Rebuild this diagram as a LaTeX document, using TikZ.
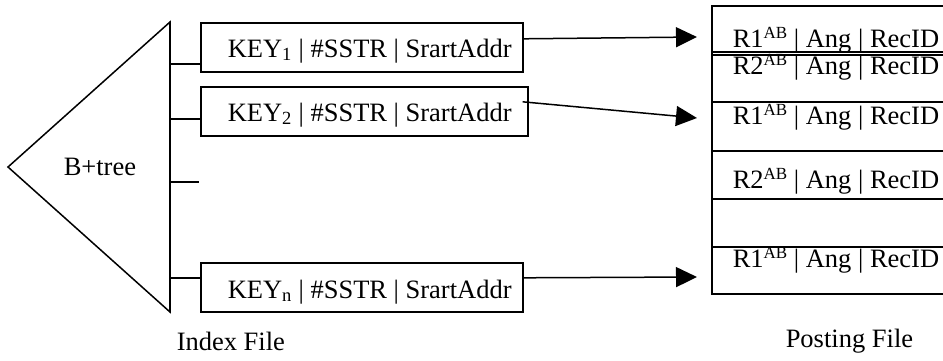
\documentclass[tikz,border=0pt]{standalone}
\usepackage{fontspec}
\setmainfont{Liberation Serif}
\usetikzlibrary{arrows.meta}
\newcommand{\supAB}{\raisebox{0.32em}{\fontsize{17}{17}\selectfont AB}}
\begin{document}
\begin{tikzpicture}[x=1pt,y=-1pt,
  line width=1.5pt,
  every node/.style={font=\fontsize{26.5}{30}\selectfont, inner sep=0pt},
  keybox/.style={draw, rectangle, anchor=north west, minimum height=49pt, line width=1.6pt},
  lbl/.style={anchor=base west},
  ptr/.style={-{Triangle[length=21pt,width=20pt]}, line width=1.5pt},
]
\useasboundingbox (0,0) rectangle (943,360);

% B+tree triangle
\coordinate (apex) at (8,167);
\coordinate (ttop) at (170,22);
\coordinate (tbot) at (170,312);
\draw[line join=miter] (ttop) -- (apex) -- (tbot) -- cycle;
\draw[line width=2.2pt] (ttop) -- (tbot);
\node[lbl] (bt) at (63,175) {B+tree};

% index entries
\node[keybox, minimum width=322pt] (k1) at (200,22) {};
\node[keybox, minimum width=327pt] (k2) at (200,86) {};
\node[keybox, minimum width=322pt] (kn) at (200,262) {};
\node[lbl] (k1t) at (227,57) {KEY\textsubscript{1} | \#SSTR | SrartAddr};
\node[lbl] (k2t) at (227,121) {KEY\textsubscript{2} | \#SSTR | SrartAddr};
\node[lbl] (knt) at (227,298) {KEY\textsubscript{n} | \#SSTR | SrartAddr};

% leaf links from the tree to the entries
\path ([yshift=-16.5pt]k1.west) coordinate (j1);
\path ([yshift=-7.5pt]k2.west) coordinate (j2);
\path ([yshift=9.5pt]kn.west) coordinate (jn);
\coordinate (j3) at (199,182);
\draw (j1 -| ttop) -- (j1);
\draw (j2 -| ttop) -- (j2);
\draw (j3 -| ttop) -- (j3);
\draw (jn -| ttop) -- (jn);

% posting file
\draw[line width=1.6pt] (943,6) -- (712,6) -- (712,294) -- (943,294);
\foreach \yy in {52,55,102,151,199,247}
  \draw[line width=1.6pt] (712,\yy) -- (943,\yy);
\node[lbl] (r1) at (732,47) {R1\supAB{} | Ang | RecID};
\node[lbl] (r2) at (732,74) {R2\supAB{} | Ang | RecID};
\node[lbl] (r3) at (732,124) {R1\supAB{} | Ang | RecID};
\node[lbl] (r4) at (732,188) {R2\supAB{} | Ang | RecID};
\node[lbl] (r5) at (732,267) {R1\supAB{} | Ang | RecID};

% pointers into the posting file
\coordinate (p1) at (697,37);
\coordinate (p2) at (697,118);
\coordinate (p3) at (697,277);
\draw[ptr] ([yshift=8.5pt]k1.east) -- (p1);
\draw[ptr] ([xshift=-6pt,yshift=9.5pt]k2.east) -- (p2);
\draw[ptr] ([yshift=9.5pt]kn.east) -- (p3);

% captions
\node[lbl] (ix) at (176,350) {Index File};
\node[lbl] (pf) at (785,347) {Posting File};
\end{tikzpicture}
\end{document}
